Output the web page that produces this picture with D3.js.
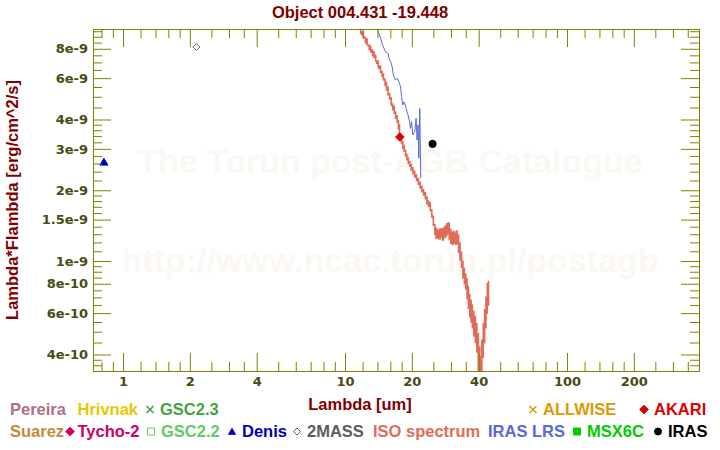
<!DOCTYPE html>
<html><head><meta charset="utf-8">
<script src="https://cdn.jsdelivr.net/npm/d3@7"></script>
<style>body{margin:0;background:#fff} svg{display:block}</style>
</head><body><svg id="c" width="720" height="450"></svg>
<script>
// ---------------- data ----------------
const title = "Object 004.431 -19.448";
const xLabel = "Lambda [um]";
const yLabel = "Lambda*Flambda [erg/cm^2/s]";
const watermark1 = "The Torun post-AGB Catalogue";
const watermark2 = "http://www.ncac.torun.pl/postagb";
const FLUX_UNIT = 1e-9; // fluxes below are given in units of 1e-9 erg/cm^2/s

const xDomain = [0.7324, 393.2];
const yDomain = [3.403e-10, 9.71e-9];
const xMajorTicks = [1, 2, 4, 10, 20, 40, 100, 200];
const xMinorTicks = [0.8, 0.9, 1.2, 1.4, 1.6, 1.8, 2.5, 3, 3.5, 5, 6, 7, 8, 9, 12, 14, 16, 18, 25, 30, 35, 50, 60, 70, 80, 90, 120, 140, 160, 180, 250, 300, 350];
const yMajorTicks = [4e-10, 6e-10, 8e-10, 1e-9, 1.5e-9, 2e-9, 3e-9, 4e-9, 6e-9, 8e-9];
const yMajorLabels = ["4e-10", "6e-10", "8e-10", "1e-9", "1.5e-9", "2e-9", "3e-9", "4e-9", "6e-9", "8e-9"];
const yMinorTicks = [3.6e-10, 3.8e-10, 4.5e-10, 5e-10, 5.5e-10, 6.5e-10, 7e-10, 7.5e-10, 8.5e-10, 9e-10, 9.5e-10,
  1.1e-9, 1.2e-9, 1.3e-9, 1.4e-9, 1.6e-9, 1.7e-9, 1.8e-9, 1.9e-9, 2.2e-9, 2.4e-9, 2.6e-9, 2.8e-9,
  3.2e-9, 3.4e-9, 3.6e-9, 3.8e-9, 4.5e-9, 5e-9, 5.5e-9, 6.5e-9, 7e-9, 7.5e-9, 8.5e-9, 9e-9, 9.5e-9];

// ISO spectrum
const isoWave = [10.9, 11.1, 11.25, 11.4, 11.56, 11.7, 11.85, 11.95, 12.05, 12.15, 12.3, 12.4, 12.5, 12.65, 12.8, 12.9, 13.0, 13.1, 13.25, 13.35,
  13.45, 13.6, 13.7, 13.8, 13.95, 14.05, 14.15, 14.3, 14.4, 14.5, 14.65, 14.75, 14.85, 14.95, 15.1, 15.2, 15.3, 15.45, 15.55, 15.7,
  15.85, 15.95, 16.1, 16.2, 16.35, 16.45, 16.6, 16.7, 16.85, 16.95, 17.1, 17.25, 17.35, 17.45, 17.55, 17.65, 17.8, 17.9, 18.0, 18.15,
  18.25, 18.4, 18.5, 18.65, 18.8, 18.95, 19.05, 19.2, 19.35, 19.5, 19.65, 19.8, 19.95, 20.15, 20.3, 20.5, 20.7, 20.9, 21.1, 21.3,
  21.5, 21.7, 21.9, 22.1, 22.3, 22.5, 22.7, 22.9, 23.1, 23.3, 23.5, 23.7, 23.9, 24.1, 24.3, 24.5, 24.7, 24.9, 25.1, 25.3,
  25.45, 25.6, 25.8, 26.0, 26.2, 26.45, 26.7, 26.9, 27.1, 27.35, 27.6, 27.85, 28.1, 28.35, 28.6, 28.85, 29.1, 29.35, 29.6, 29.85,
  30.1, 30.35, 30.6, 30.85, 31.1, 31.35, 31.6, 31.85, 32.1, 32.35, 32.6, 32.85, 33.1, 33.35, 33.6, 33.85, 34.1, 34.35, 34.6, 34.85,
  35.1, 35.35, 35.6, 35.85, 36.1, 36.35, 36.6, 36.85, 37.1, 37.35, 37.6, 37.9, 38.2, 38.5, 38.8, 39.1, 39.4, 39.7, 40.0, 40.3,
  40.6, 40.9, 41.2, 41.5, 41.8, 42.1, 42.4, 42.7, 43.0, 43.3, 43.6, 43.9, 44.2, 44.4];
const isoFlux = [10.9, 10.3, 10.7, 9.9, 9.75, 9.95, 9.3, 9.2, 9.45, 8.9, 8.95, 8.5, 8.8, 8.3, 8.3, 7.95, 8.2, 7.75, 7.9, 7.5,
  7.75, 7.35, 7.5, 7.1, 6.95, 7.1, 6.7, 6.6, 6.75, 6.35, 6.4, 6.1, 6.25, 5.9, 5.95, 5.6, 5.75, 5.35, 5.5, 5.1,
  5.15, 4.9, 4.95, 4.6, 4.65, 4.4, 4.55, 4.25, 4.3, 4.05, 4.15, 3.9, 3.95, 3.65, 3.8, 3.42, 3.33, 3.45, 3.18, 3.22,
  3.02, 3.1, 2.93, 2.96, 2.8, 2.84, 2.7, 2.74, 2.6, 2.64, 2.53, 2.57, 2.44, 2.49, 2.36, 2.41, 2.28, 2.32, 2.2, 2.24,
  2.12, 2.16, 2.04, 2.08, 1.97, 2.01, 1.91, 1.95, 1.84, 1.87, 1.75, 1.80, 1.71, 1.77, 1.64, 1.65, 1.54, 1.55, 1.42, 1.43,
  1.30, 1.38, 1.25, 1.36, 1.26, 1.35, 1.24, 1.37, 1.27, 1.36, 1.23, 1.38, 1.26, 1.41, 1.28, 1.44, 1.31, 1.45, 1.24, 1.36,
  1.19, 1.32, 1.18, 1.33, 1.20, 1.31, 1.18, 1.34, 1.19, 1.29, 1.09, 1.19, 1.01, 1.09, 0.94, 1.00, 0.85, 0.93, 0.80, 0.88,
  0.76, 0.84, 0.69, 0.78, 0.63, 0.72, 0.58, 0.68, 0.55, 0.65, 0.52, 0.61, 0.48, 0.58, 0.45, 0.54, 0.41, 0.49, 0.34, 0.43,
  0.29, 0.39, 0.30, 0.46, 0.39, 0.54, 0.45, 0.62, 0.52, 0.70, 0.60, 0.80, 0.65, 0.82];

// IRAS LRS spectrum
const lrsWave = [13.75, 13.96, 14.2, 14.47, 14.7, 14.97, 15.23, 15.45, 15.65, 15.76, 16.04, 16.31, 16.45, 16.6, 16.89, 17.17, 17.48, 17.79, 17.97,
  18.21, 18.4, 18.59, 18.85, 19.05, 19.24, 19.52, 19.72, 19.93, 20.2, 20.4, 20.62, 20.9, 21.12, 21.34, 21.49, 21.72, 21.94];
const lrsFlux = [10.3, 9.71, 9.3, 8.87, 8.4, 8.04, 7.77, 7.7, 7.65, 7.29, 7.05, 6.71, 6.3, 6.08, 5.89, 5.99, 5.79, 5.52, 5.00,
  4.61, 4.75, 4.69, 4.46, 4.3, 4.18, 3.92, 3.67, 3.92, 3.44, 3.5, 3.55, 4.05, 3.27, 3.79, 2.74, 4.46, 2.25];

// photometry
const denisWave = [0.82];   const denisFlux = [2.64];
const twomassWave = [2.14]; const twomassFlux = [8.14];
const akariWave = [17.66];  const akariFlux = [3.37];
const irasWave = [24.8];    const irasFlux = [3.15];

// legend
const legendRow1 = ["Pereira", "Hrivnak", "GSC2.3", "ALLWISE", "AKARI"];
const legendRow1Sym = [null, null, "x", "x", "diamond"];
const legendRow2 = ["Suarez", "Tycho-2", "GSC2.2", "Denis", "2MASS", "ISO spectrum", "IRAS LRS", "MSX6C", "IRAS"];
const legendRow2Sym = [null, "diamond", "square-open", "triangle", "diamond-open", null, null, "square", "circle"];

// ---------------- styles / layout ----------------
const colors = {
  "Pereira": "#b26d8b", "Hrivnak": "#e6c800", "GSC2.3": "#42a342", "ALLWISE": "#dd9a00", "AKARI": "#dd0000",
  "Suarez": "#c3893d", "Tycho-2": "#cc0066", "GSC2.2": "#66c866", "Denis": "#0000bb", "2MASS": "#5c5c5c",
  "ISO spectrum": "#e06c58", "IRAS LRS": "#5b68d8", "MSX6C": "#00cc00", "IRAS": "#000000"
};
const legendX1 = [10, 77.5, 150, 533, 644];
const legendX2 = [10, 70, 151, 232, 297, 373, 488, 577, 658];

const axisColor = "#808000";
const tickTextColor = "#4a4a12";
const titleColor = "#800000";
const plot = {left: 93, right: 699, top: 29, bottom: 371};

const svg = d3.select("#c");
const x = d3.scaleLog().domain(xDomain).range([plot.left, plot.right]);
const y = d3.scaleLog().domain(yDomain).range([plot.bottom, plot.top]);

// watermarks
[[watermark1, 173], [watermark2, 272]].forEach(([t, yy]) => {
  svg.append("text").attr("x", 390).attr("y", yy).attr("text-anchor", "middle")
    .attr("font-family", "Liberation Sans, Arial, sans-serif").attr("font-weight", "bold").attr("font-size", 34)
    .attr("fill", "#fbf8f4").text(t);
});

// clip
svg.append("defs").append("clipPath").attr("id", "clip")
  .append("rect").attr("x", plot.left).attr("y", plot.top).attr("width", plot.right - plot.left + 1).attr("height", plot.bottom - plot.top + 1);
const g = svg.append("g").attr("clip-path", "url(#clip)");

const isoLine = d3.line().curve(d3.curveStep).x(d => x(d[0])).y(d => y(d[1] * FLUX_UNIT));
const lrsLine = d3.line().x(d => x(d[0])).y(d => y(d[1] * FLUX_UNIT));
g.append("path").datum(isoWave.map((w, i) => [w, isoFlux[i]]))
  .attr("d", isoLine).attr("fill", "none").attr("stroke", colors["ISO spectrum"]).attr("stroke-width", 1.6);
g.append("path").datum(lrsWave.map((w, i) => [w, lrsFlux[i]]))
  .attr("d", lrsLine).attr("fill", "none").attr("stroke", colors["IRAS LRS"]).attr("stroke-width", 1);

// symbols
function symPath(type, s) {
  switch (type) {
    case "diamond": case "diamond-open": return `M0,${-s}L${s},0L0,${s}L${-s},0Z`;
    case "triangle": return `M0,${-s * 0.9}L${s},${s * 0.8}L${-s},${s * 0.8}Z`;
    case "square": case "square-open": return `M${-s},${-s}H${s}V${s}H${-s}Z`;
    case "x": return `M${-s},${-s}L${s},${s}M${s},${-s}L${-s},${s}`;
    case "circle": return `M${s},0A${s},${s} 0 1,1 ${-s},0A${s},${s} 0 1,1 ${s},0Z`;
  }
}
function drawSym(sel, type, color, s, cx, cy) {
  const open = type.endsWith("open") || type === "x";
  sel.append("path").attr("d", symPath(type, s)).attr("transform", `translate(${cx},${cy})`)
    .attr("fill", open ? (type === "x" ? "none" : "#fff") : color)
    .attr("stroke", color).attr("stroke-width", type === "x" ? 1.6 : 1);
}
denisWave.forEach((w, i) => drawSym(g, "triangle", colors["Denis"], 4, x(w), y(denisFlux[i] * FLUX_UNIT)));
twomassWave.forEach((w, i) => drawSym(g, "diamond-open", colors["2MASS"], 3.5, x(w), y(twomassFlux[i] * FLUX_UNIT)));
akariWave.forEach((w, i) => drawSym(g, "diamond", colors["AKARI"], 4.3, x(w), y(akariFlux[i] * FLUX_UNIT)));
irasWave.forEach((w, i) => drawSym(g, "circle", colors["IRAS"], 3.6, x(w), y(irasFlux[i] * FLUX_UNIT)));

// axes
function styleAxis(sel) {
  sel.selectAll("path.domain").attr("stroke", axisColor);
  sel.selectAll(".tick line").attr("stroke", axisColor);
  sel.selectAll(".tick text").attr("fill", tickTextColor)
    .attr("font-family", "DejaVu Sans, Verdana, sans-serif").attr("font-weight", "bold").attr("font-size", 13);
}
const yFmt = d => yMajorLabels[yMajorTicks.indexOf(d)];
function addAxis(axisFn, tr, ticks, size, fmt, pad) {
  const a = axisFn.tickValues(ticks).tickSizeInner(size).tickSizeOuter(0).tickFormat(fmt || "");
  if (pad != null) a.tickPadding(pad);
  svg.append("g").attr("transform", tr).call(a).call(styleAxis);
}
addAxis(d3.axisBottom(x), `translate(0,${plot.bottom})`, xMinorTicks, -9);
addAxis(d3.axisBottom(x), `translate(0,${plot.bottom})`, xMajorTicks, -18, d3.format("d"), 6);
addAxis(d3.axisTop(x), `translate(0,${plot.top})`, xMinorTicks, -9);
addAxis(d3.axisTop(x), `translate(0,${plot.top})`, xMajorTicks, -18);
addAxis(d3.axisLeft(y), `translate(${plot.left},0)`, yMinorTicks, -9);
addAxis(d3.axisLeft(y), `translate(${plot.left},0)`, yMajorTicks, -18, yFmt, 5);
addAxis(d3.axisRight(y), `translate(${plot.right},0)`, yMinorTicks, -9);
addAxis(d3.axisRight(y), `translate(${plot.right},0)`, yMajorTicks, -18);

// titles
const tFont = "Liberation Sans, Arial, sans-serif";
svg.append("text").attr("x", 360).attr("y", 18).attr("text-anchor", "middle")
  .attr("font-family", tFont).attr("font-weight", "bold").attr("font-size", 16.5).attr("fill", titleColor).text(title);
svg.append("text").attr("x", 360).attr("y", 410).attr("text-anchor", "middle")
  .attr("font-family", tFont).attr("font-weight", "bold").attr("font-size", 16.5).attr("fill", titleColor).text(xLabel);
svg.append("text").attr("transform", `translate(18,200) rotate(-90)`).attr("text-anchor", "middle")
  .attr("font-family", tFont).attr("font-weight", "bold").attr("font-size", 16.5).attr("fill", titleColor).text(yLabel);

// legend
function drawLegendRow(names, syms, xs, baseline) {
  names.forEach((n, i) => {
    let tx = xs[i];
    if (syms[i]) {
      const s = syms[i] === "x" ? 3.5 : (syms[i] === "diamond" ? 4.3 : 3.5);
      drawSym(svg, syms[i], colors[n], s, xs[i], baseline - 5.5);
      tx = xs[i] + (n === "Tycho-2" ? 7.5 : 10);
    }
    svg.append("text").attr("x", tx).attr("y", baseline)
      .attr("font-family", tFont).attr("font-weight", "bold").attr("font-size", 16.5)
      .attr("fill", colors[n]).text(n);
  });
}
drawLegendRow(legendRow1, legendRow1Sym, legendX1, 415);
drawLegendRow(legendRow2, legendRow2Sym, legendX2, 437);
</script>
</body></html>
